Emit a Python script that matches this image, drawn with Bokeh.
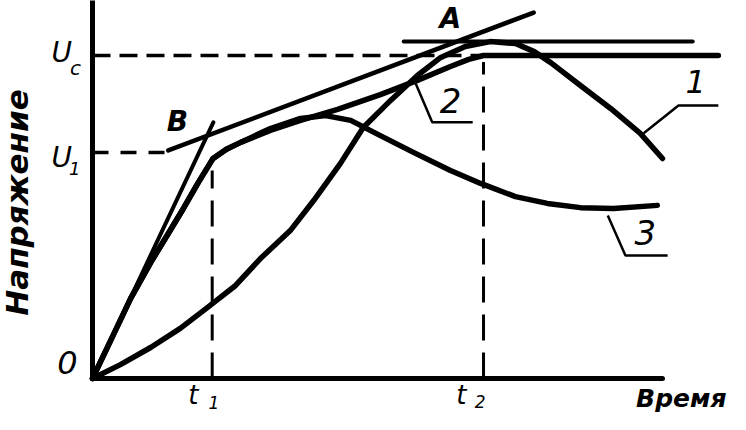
from bokeh.plotting import figure
from bokeh.models import Range1d
from bokeh.core.properties import value
from bokeh.embed import file_html
from bokeh.resources import INLINE
import math

# ---- data (arbitrary units: time, voltage) ----
U_C = 10.0
U_1 = 7.0
U_MAX = 10.43
T_1 = 2.10
T_2 = 6.86
T_END = 10.0

# curve 1
c1_t = [0, 0.49, 1.02, 1.54, 2.02, 2.51, 2.95, 3.47, 3.88, 4.35, 4.75, 5.23, 5.70,
        6.11, 6.54, 6.98, 7.42, 7.75, 8.04, 8.56, 9.09, 9.61, 10.0]
c1_u = [0, 0.43, 0.96, 1.55, 2.20, 2.88, 3.72, 4.58, 5.51, 6.66, 7.77, 8.61, 9.38,
        9.94, 10.28, 10.43, 10.37, 10.12, 9.78, 9.07, 8.36, 7.59, 6.81]

# common rise of curves 2 and 3
rise_t = [0, 0.32, 0.67, 1.02, 1.33, 1.60, 1.85, 2.11, 2.35, 2.60, 3.12]
rise_u = [0, 1.18, 2.48, 3.59, 4.49, 5.28, 6.05, 6.80, 7.10, 7.31, 7.68]

# curve 2
c2_t = rise_t + [3.65, 4.30, 5.05, 5.70, 6.28, 6.60, 6.86, 10.98]
c2_u = rise_u + [7.99, 8.33, 8.79, 9.23, 9.66, 9.88, 10.0, 10.0]

# curve 3
c3_t = rise_t[:-1] + [3.12, 3.65, 4.09, 4.53, 5.05, 5.63, 6.28, 6.81, 7.42, 7.98, 8.56, 9.14, 9.91]
c3_u = rise_u[:-1] + [7.74, 8.05, 8.14, 7.99, 7.52, 7.00, 6.44, 6.04, 5.63, 5.42, 5.29, 5.26, 5.36]

# tangent lines
tan_ob_t = [0, 2.12]
tan_ob_u = [0, 7.93]
tan_ba_t = [1.33, 7.74]
tan_ba_u = [7.06, 11.33]
max_line_t = [5.46, 10.53]

# leaders for curve numbers
lead1_t = [9.67, 10.28, 10.98]; lead1_u = [7.59, 8.45, 8.45]
lead2_t = [5.67, 5.96, 6.67];   lead2_u = [9.13, 7.93, 7.93]
lead3_t = [9.04, 9.35, 10.09];  lead3_u = [5.05, 3.81, 3.81]

W, H = 730, 414
p = figure(width=W, height=H, output_backend="svg", toolbar_location=None,
           x_range=Range1d(-1.6140, 11.1930), y_range=Range1d(-1.1146, 11.7028),
           min_border=0, min_border_left=0, min_border_right=0,
           min_border_top=0, min_border_bottom=0)
p.axis.visible = False
p.grid.visible = False
p.outline_line_color = None
p.background_fill_color = "white"

K = "black"
# axes
p.line([0, 0], [0, 12], line_color=K, line_width=5)
p.line([0, T_END], [0, 0], line_color=K, line_width=5, line_cap="round")

# dashed references
p.line([0, T_2], [U_C, U_C], line_color=K, line_width=3.5, line_dash="18 9")
p.line([0, 1.33], [U_1, U_1], line_color=K, line_width=3.5, line_dash="16 12")
p.line([T_1, T_1], [0, 6.44], line_color=K, line_width=3, line_dash="26 12")
p.line([T_2, T_2], [0, 9.8], line_color=K, line_width=3, line_dash="26 12")

# tangent lines
p.line(tan_ob_t, tan_ob_u, line_color=K, line_width=4, line_cap="round")
p.line(tan_ba_t, tan_ba_u, line_color=K, line_width=4.5, line_cap="round")
p.line(max_line_t, [U_MAX, U_MAX], line_color=K, line_width=4, line_cap="round")

# curves
for t, u in ((c1_t, c1_u), (c2_t, c2_u), (c3_t, c3_u)):
    p.line(t, u, line_color=K, line_width=5.5, line_cap="round", line_join="round")

# leaders
for t, u in ((lead1_t, lead1_u), (lead2_t, lead2_u), (lead3_t, lead3_u)):
    p.line(t, u, line_color=K, line_width=2.5)

F = value("DejaVu Sans")

def label(x, y, s, size, style="bold italic", angle=0.0):
    p.text([x], [y], text=[s], text_font=F, text_font_size=f"{size}px",
           text_font_style=style, text_align="center", text_baseline="middle",
           text_color=K, angle=angle)

label(-0.44, 0.50, "0", 32, "italic")
label(-0.54, 10.09, "U", 28, "italic")
label(-0.30, 9.62, "c", 20, "italic")
label(-0.54, 6.84, "U", 28, "italic")
label(-0.31, 6.50, "1", 18, "italic")
label(1.49, 7.96, "В", 28)
label(6.28, 11.15, "A", 28)
label(10.58, 9.20, "1", 32, "italic")
label(6.28, 8.61, "2", 34, "italic")
label(9.70, 4.52, "3", 34, "italic")
label(1.77, -0.52, "t", 26, "italic")
label(2.13, -0.74, "1", 17, "italic")
label(6.47, -0.52, "t", 26, "italic")
label(6.80, -0.72, "2", 17, "italic")
label(10.33, -0.62, "Время", 25)
label(-1.33, 5.45, "Напряжение", 31, angle=math.pi / 2)

open("out.html", "w").write(file_html(p, INLINE))
